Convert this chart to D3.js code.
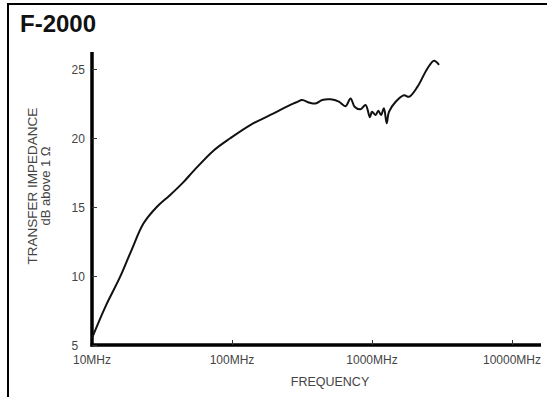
<!DOCTYPE html>
<html><head><meta charset="utf-8">
<script src="https://cdn.jsdelivr.net/npm/d3@7"></script>
<style>body{margin:0;background:#fff}svg{display:block}text{font-family:"Liberation Sans",Arial,sans-serif}</style>
</head><body><svg id="c" width="547" height="397"></svg>
<script>
const title = "F-2000";
const yTitle1 = "TRANSFER IMPEDANCE";
const yTitle2 = "dB above 1 \u03A9";
const xTitle = "FREQUENCY";
const xTicks = [10, 100, 1000, 10000];
const xTickLabels = ["10MHz", "100MHz", "1000MHz", "10000MHz"];
const yTicks = [5, 10, 15, 20, 25];
const freqMHz = [10, 12.5, 15.9, 19.2, 23.3, 29, 36, 45, 53, 74, 97, 135, 188, 261, 290, 317, 360, 395, 441, 506, 580, 647, 703, 751, 828, 900, 966, 1000, 1062, 1110, 1160, 1217, 1273, 1322, 1476, 1692, 1840, 2110, 2489, 2775, 3011];
const impedanceDb = [5.5, 7.8, 9.95, 11.9, 13.8, 15.0, 15.85, 16.8, 17.6, 19.1, 19.98, 20.94, 21.67, 22.4, 22.6, 22.75, 22.55, 22.5, 22.75, 22.8, 22.63, 22.3, 22.87, 22.27, 22.08, 22.39, 21.5, 21.9, 21.67, 21.98, 21.67, 22.15, 21.07, 21.9, 22.63, 23.1, 22.99, 23.7, 25.04, 25.6, 25.3];

const svg = d3.select("#c");
const x = d3.scaleLog().domain([10, 10000]).range([92, 512]);
const y = d3.scaleLinear().domain([5, 25]).range([345, 69]);

// frame
svg.append("path").attr("d", "M8,397 V4 H547").attr("fill", "none").attr("stroke", "#000").attr("stroke-width", 2);

svg.append("text").attr("x", 20).attr("y", 32).attr("font-size", 24).attr("font-weight", "bold").attr("fill", "#111").text(title);

// axes lines
svg.append("line").attr("x1", 92).attr("x2", 92).attr("y1", 52).attr("y2", 346.5).attr("stroke", "#000").attr("stroke-width", 3.5);
svg.append("line").attr("x1", 90.5).attr("x2", 541).attr("y1", y(5)).attr("y2", y(5)).attr("stroke", "#000").attr("stroke-width", 3.5);

// y ticks
const yAxis = d3.axisRight(y).tickValues(yTicks).tickSize(5).tickFormat("");
const gy = svg.append("g").attr("transform", "translate(92,0)").call(yAxis);
gy.select(".domain").remove();
gy.selectAll("line").attr("stroke", "#333");
svg.selectAll(".ylab").data(yTicks).join("text").attr("class", "ylab")
  .attr("x", 71.5).attr("y", d => y(d) + 4.5).attr("text-anchor", "start").attr("font-size", 12).attr("fill", "#444").text(d => d);

// x ticks
const xAxis = d3.axisTop(x).tickValues(xTicks.slice(1)).tickSize(5).tickFormat("");
const gx = svg.append("g").attr("transform", `translate(0,${y(5)})`).call(xAxis);
gx.select(".domain").remove();
gx.selectAll("line").attr("stroke", "#333");
svg.selectAll(".xlab").data(xTicks).join("text").attr("class", "xlab")
  .attr("x", d => x(d)).attr("y", 364).attr("text-anchor", "middle").attr("font-size", 12).attr("fill", "#444")
  .text((d, i) => xTickLabels[i]);

svg.append("text").attr("x", 330).attr("y", 386).attr("text-anchor", "middle").attr("font-size", 12.5).attr("fill", "#444").text(xTitle);
svg.append("text").attr("transform", "translate(37,186) rotate(-90)").attr("text-anchor", "middle").attr("font-size", 13.5).attr("fill", "#444").text(yTitle1);
svg.append("text").attr("transform", "translate(50,186) rotate(-90)").attr("text-anchor", "middle").attr("font-size", 13).attr("fill", "#444").text(yTitle2);

const line = d3.line().x((d, i) => x(freqMHz[i])).y(d => y(d)).curve(d3.curveCatmullRom.alpha(0.5));
svg.append("path").datum(impedanceDb).attr("d", line).attr("fill", "none").attr("stroke", "#111").attr("stroke-width", 2).attr("stroke-linejoin", "round");
</script></body></html>
